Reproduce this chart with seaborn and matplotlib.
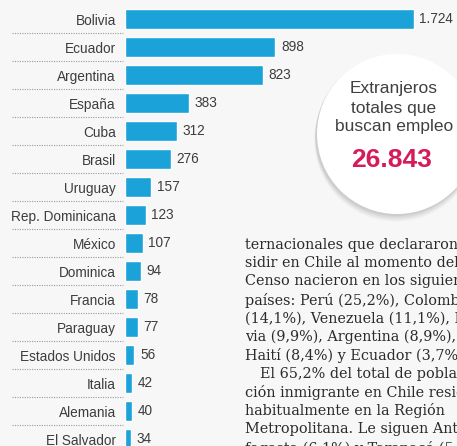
import matplotlib
matplotlib.use("Agg")
import matplotlib.pyplot as plt
import matplotlib.transforms as mtransforms
from matplotlib.patches import Circle
import seaborn as sns
import pandas as pd

# Foreign residents looking for work, by country of origin
countries = ["Bolivia", "Ecuador", "Argentina", "España", "Cuba", "Brasil",
             "Uruguay", "Rep. Dominicana", "México", "Dominica", "Francia",
             "Paraguay", "Estados Unidos", "Italia", "Alemania", "El Salvador"]
values = [1724, 898, 823, 383, 312, 276, 157, 123, 107, 94, 78, 77, 56, 42, 40, 34]
total_label = "26.843"
callout_lines = ["Extranjeros", "totales que", "buscan empleo"]

article_lines = [
    "ternacionales que declararon re-",
    "sidir en Chile al momento del",
    "Censo nacieron en los siguientes",
    "países: Perú (25,2%), Colombia",
    "(14,1%), Venezuela (11,1%), Boli-",
    "via (9,9%), Argentina (8,9%),",
    "Haití (8,4%) y Ecuador (3,7%).",
    "El 65,2% del total de pobla-",
    "ción inmigrante en Chile reside",
    "habitualmente en la Región",
    "Metropolitana. Le siguen Anto-",
    "fagasta (6,1%) y Tarapacá (5,9%)",
]

df = pd.DataFrame({"pais": countries, "extranjeros": values})

sns.set_theme(style="white")
plt.rcParams["font.family"] = ["Liberation Sans", "DejaVu Sans"]

W, H = 457, 446
fig = plt.figure(figsize=(W / 100, H / 100), dpi=100)
fig.patch.set_facecolor("#f7f7f7")

bar_color = "#1aa2d9"
ax = fig.add_axes([125 / W, 0, 332 / W, 1])
ax.set_facecolor("none")
sns.barplot(data=df, x="extranjeros", y="pais", color=bar_color,
            width=0.72, saturation=1, ax=ax)
ax.set_xlim(0, 1981)
ax.set_ylim(15.25, -0.68)
ax.set_xlabel("")
ax.set_ylabel("")
ax.set_xticks([])
ax.tick_params(axis="y", length=0, pad=6.5, labelsize=9.8, labelcolor="#3d3d3d")
for s in ax.spines.values():
    s.set_visible(False)

ax.bar_label(ax.containers[0],
             labels=[f"{v:,}".replace(",", ".") for v in values],
             padding=4, fontsize=9.8, color="#3d3d3d")

# dotted separators under the country names
blend = mtransforms.blended_transform_factory(fig.transFigure, ax.transData)
for i in range(len(countries) - 1):
    ax.plot([12 / W, 123 / W], [i + 0.5, i + 0.5], transform=blend,
            color="#9a9a9a", lw=0.8, ls=(0, (1, 1.2)), clip_on=False)

# overlay in pixel units for the callout bubble and the article text
ov = fig.add_axes([0, 0, 1, 1], zorder=-1)
ov.set_xlim(0, W)
ov.set_ylim(H, 0)
ov.axis("off")
ov.patch.set_visible(False)

cx, cy, r = 397, 134, 80
for k, (dy, a) in enumerate([(6, 0.05), (4.5, 0.07), (3, 0.09), (1.5, 0.1)]):
    ov.add_patch(Circle((cx - 1, cy + dy), r + 1.5 - k * 0.3,
                        color="#6a6a6a", alpha=a, lw=0))
ov.add_patch(Circle((cx, cy), r, color="white", lw=0))

ov2 = fig.add_axes([0, 0, 1, 1], zorder=3)
ov2.set_xlim(0, W)
ov2.set_ylim(H, 0)
ov2.axis("off")
ov2.patch.set_visible(False)

for j, line in enumerate(callout_lines):
    ov2.text(394, 89 + 19 * j, line, ha="center", va="center",
             fontsize=12.5, color="#404040")
ov2.text(392, 160, total_label, ha="center", va="center", fontsize=19,
         fontweight="bold", color="#d41c5c")

for j, line in enumerate(article_lines):
    x = 260 if j == 7 else 245
    ov2.text(x, 243 + 18.5 * j, line, ha="left", va="center_baseline",
             fontsize=10.4, color="#2a2a2a", family="DejaVu Serif")

fig.savefig("out.png", dpi=100, facecolor=fig.get_facecolor())
